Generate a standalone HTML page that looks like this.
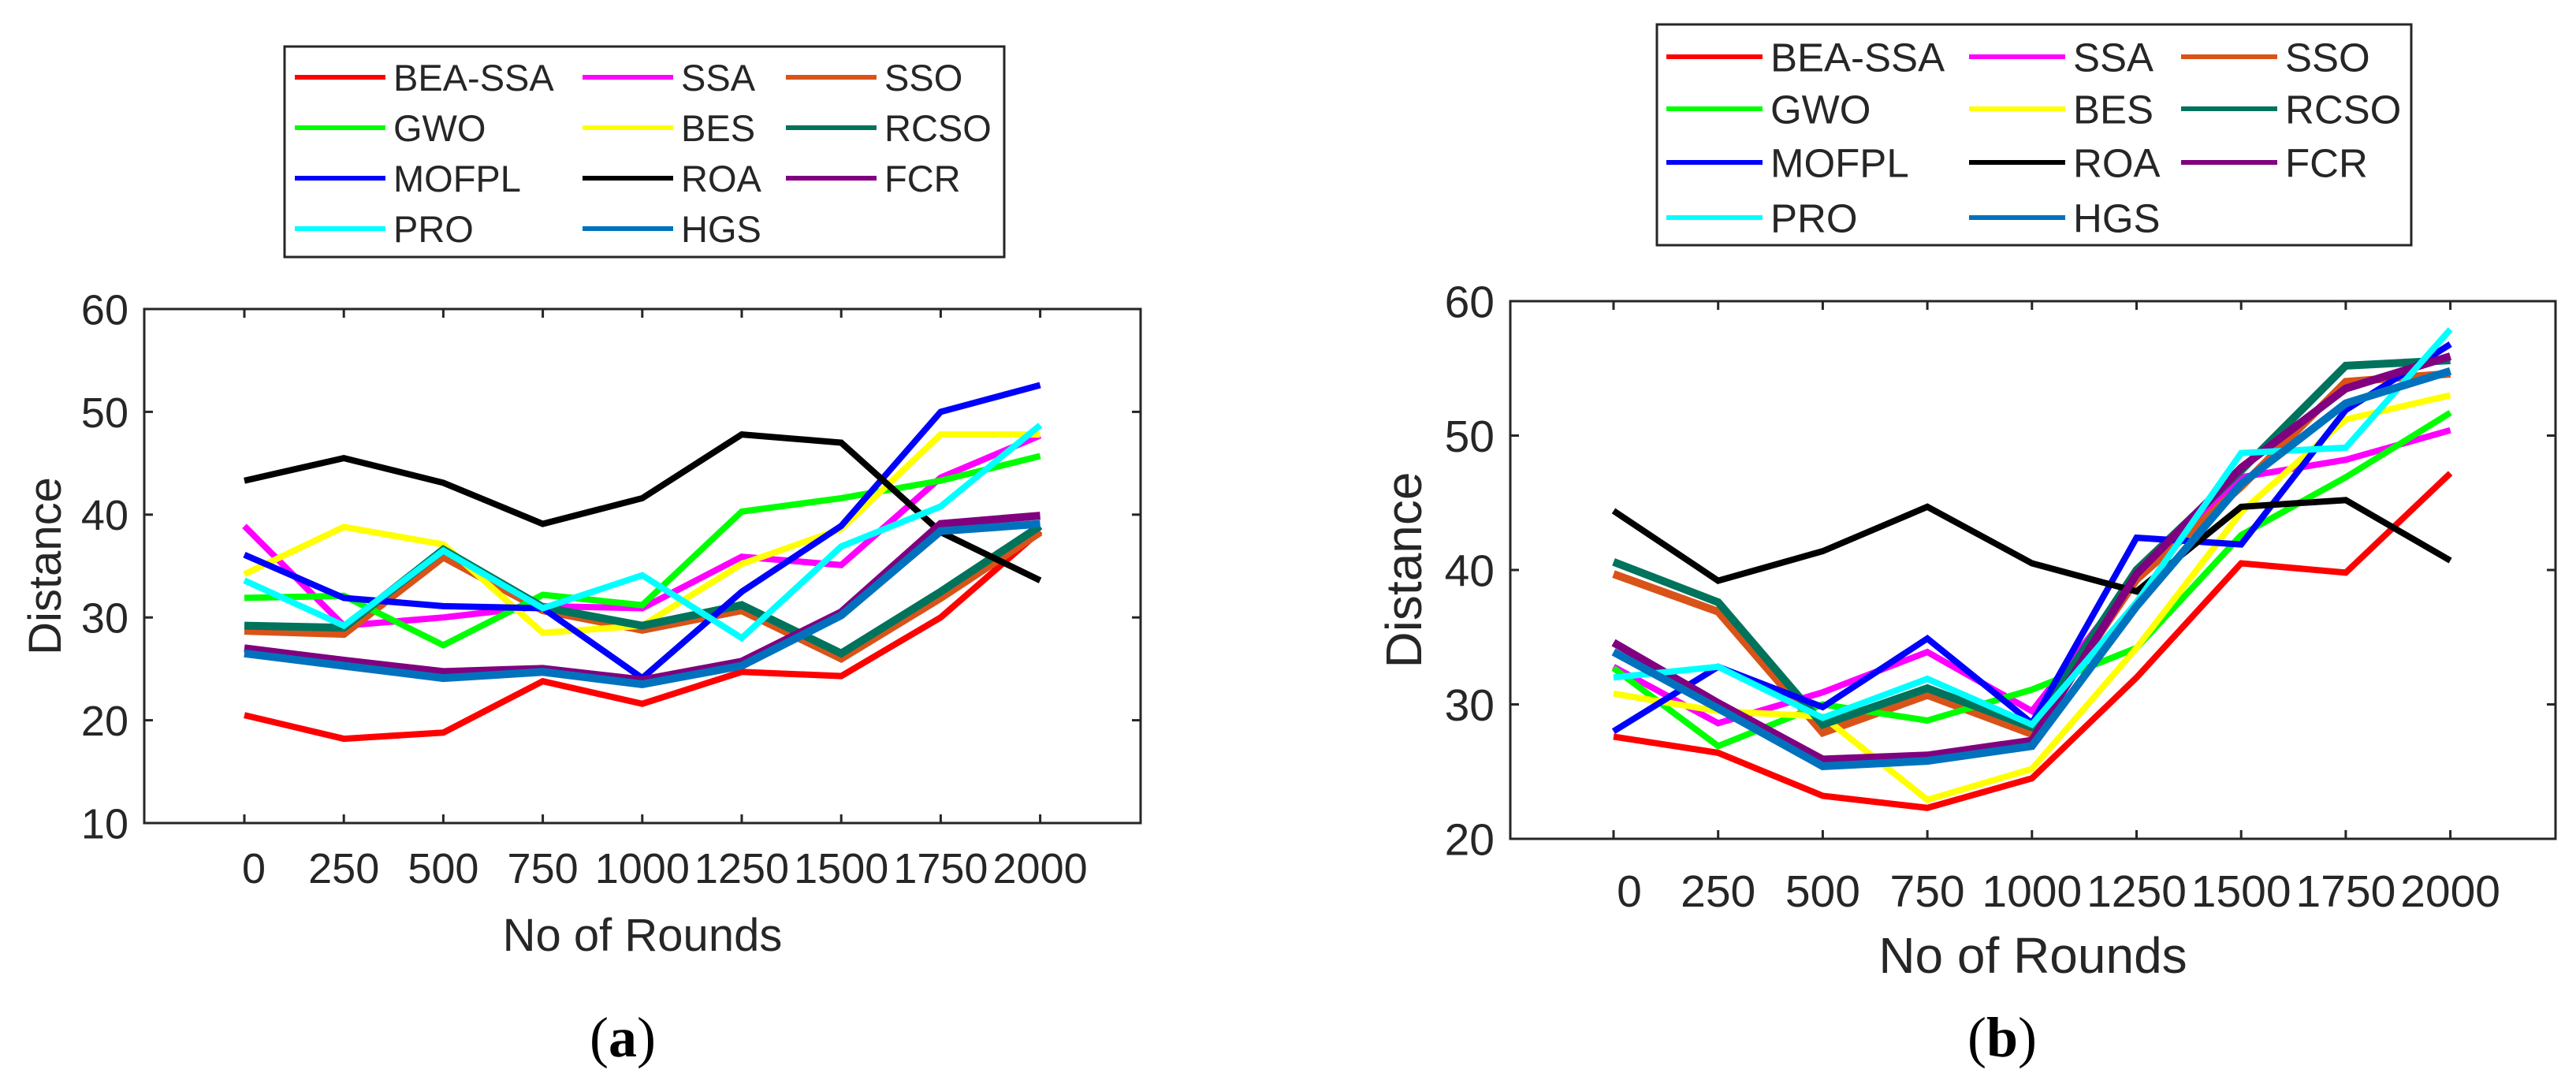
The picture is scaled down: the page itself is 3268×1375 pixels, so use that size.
<!DOCTYPE html>
<html><head><meta charset="utf-8"><style>
html,body{margin:0;padding:0;background:#fff}
svg{display:block}
text{font-family:"Liberation Sans",Arial,sans-serif;fill:#262626}
</style></head><body>
<svg id="fig" width="3268" height="1375" viewBox="0 0 3268 1375" xmlns="http://www.w3.org/2000/svg">
<g id="chartA"></g>
<g id="chartB"></g>
<text x="790" y="1340" text-anchor="middle" style="font-family:'Liberation Serif',serif;font-size:72px;fill:#000">(<tspan font-weight="bold">a</tspan>)</text>
<text x="2540" y="1340" text-anchor="middle" style="font-family:'Liberation Serif',serif;font-size:72px;fill:#000">(<tspan font-weight="bold">b</tspan>)</text>
</svg>
<script>
const categories = ["0","250","500","750","1000","1250","1500","1750","2000"];
const seriesNames = ["BEA-SSA","SSA","SSO","GWO","BES","RCSO","MOFPL","ROA","FCR","PRO","HGS"];
const yTicksA = [10,20,30,40,50,60];
const yTicksB = [20,30,40,50,60];
// Panel (a)
const a_BEASSA = [20.5,18.2,18.8,23.8,21.6,24.7,24.3,30.0,38.4];
const a_SSA    = [38.9,29.2,30.0,31.1,30.9,35.9,35.1,43.6,47.7];
const a_SSO    = [28.7,28.4,35.9,30.7,28.8,30.7,26.0,31.9,38.3];
const a_GWO    = [31.9,32.1,27.3,32.2,31.2,40.3,41.6,43.3,45.7];
const a_BES    = [34.2,38.8,37.1,28.5,29.2,35.2,38.6,47.8,47.8];
const a_RCSO   = [29.2,29.0,36.6,31.0,29.2,31.2,26.5,32.5,38.9];
const a_MOFPL  = [36.1,31.9,31.1,30.9,24.1,32.5,38.9,50.0,52.6];
const a_ROA    = [43.3,45.5,43.1,39.1,41.6,47.8,47.0,38.3,33.6];
const a_FCR    = [27.0,25.8,24.7,25.0,23.9,25.7,30.5,39.1,39.9];
const a_PRO    = [33.6,29.2,36.5,30.9,34.1,28.0,36.9,40.8,48.7];
const a_HGS    = [26.5,25.3,24.1,24.7,23.5,25.3,30.2,38.4,39.1];
// Panel (b)
const b_BEASSA = [27.6,26.4,23.2,22.3,24.5,32.0,40.5,39.8,47.2];
const b_SSA    = [32.8,28.6,30.9,33.9,29.5,39.5,46.9,48.2,50.4];
const b_SSO    = [39.7,36.9,27.9,30.7,27.8,39.3,46.2,54.0,54.6];
const b_GWO    = [32.7,26.9,30.0,28.8,31.1,34.2,42.6,46.9,51.7];
const b_BES    = [30.8,29.5,29.1,22.9,25.2,34.2,44.3,51.2,53.0];
const b_RCSO   = [40.6,37.6,28.5,31.2,28.3,40.0,47.4,55.2,55.6];
const b_MOFPL  = [28.0,32.8,29.8,34.9,28.6,42.4,41.9,51.9,56.8];
const b_ROA    = [44.4,39.2,41.4,44.7,40.5,38.4,44.7,45.2,40.7];
const b_FCR    = [34.6,30.1,25.9,26.2,27.3,39.7,47.6,53.5,55.9];
const b_PRO    = [32.0,32.8,29.0,31.9,28.5,37.6,48.7,49.1,57.9];
const b_HGS    = [33.9,29.7,25.4,25.8,26.9,37.3,46.4,52.4,54.8];

const colors = ["#ff0000","#ff00ff","#d95319","#00ff00","#ffff00","#00735c","#0000ff","#000000","#800080","#00ffff","#0072bd"];
const widths = [8,8,10,8,8,10,8,8,10,8,10];
const NS = "http://www.w3.org/2000/svg";
function mk(parent, tag, attrs, txt){
  const e = document.createElementNS(NS, tag);
  for (const k in attrs) e.setAttribute(k, attrs[k]);
  if (txt !== undefined) e.textContent = txt;
  parent.appendChild(e); return e;
}

function drawChart(g, cfg, data){
  const {L,R,T,B,x0,dx,ymin,ymax,yticks,tickFont,labFont,leg} = cfg;
  const X = i => x0 + i*dx;
  const Y = v => B - (v - ymin)/(ymax - ymin)*(B - T);
  const lg = mk(g,"g",{});
  
  
  const lb = mk(lg,"rect",{x:leg.x,y:leg.y,width:leg.w,height:leg.h,fill:"#fff",stroke:"#262626","stroke-width":3});
  
  
  seriesNames.forEach((n,i)=>{
    const col = i%3, row = Math.floor(i/3);
    const lx = leg.cols[col], ly = leg.rows[row];
    const eg = mk(lg,"g",{});
    
    
    mk(eg,"line",{x1:lx,x2:lx+leg.len,y1:ly,y2:ly,stroke:colors[i],"stroke-width":6});
    mk(eg,"text",{x:lx+leg.len+10,y:ly+leg.font*0.36,"font-size":leg.font,fill:"#000"},n);
  });
  data.forEach((arr,si)=>{
    const p = mk(g,"polyline",{points:arr.map((v,i)=>X(i)+","+Y(v)).join(" "),fill:"none",stroke:colors[si],"stroke-width":widths[si],"stroke-linejoin":"miter"});
    
    
  });
  const box = mk(g,"rect",{x:L,y:T,width:R-L,height:B-T,fill:"none",stroke:"#262626","stroke-width":3});
  
  
  categories.forEach((c,i)=>{
    mk(g,"line",{x1:X(i),x2:X(i),y1:B,y2:B-11,stroke:"#262626","stroke-width":3});
    mk(g,"line",{x1:X(i),x2:X(i),y1:T,y2:T+11,stroke:"#262626","stroke-width":3});
    const t = mk(g,"text",{x:X(i)+cfg.xoff(i),y:cfg.xlabY,"text-anchor":"middle","font-size":tickFont},c);
    
    
  });
  yticks.forEach(v=>{
    mk(g,"line",{x1:L,x2:L+11,y1:Y(v),y2:Y(v),stroke:"#262626","stroke-width":3});
    mk(g,"line",{x1:R,x2:R-11,y1:Y(v),y2:Y(v),stroke:"#262626","stroke-width":3});
    const t = mk(g,"text",{x:L-20,y:Y(v)+tickFont*0.36,"text-anchor":"end","font-size":tickFont},String(v));
    
    
  });
  const xt = mk(g,"text",{x:(L+R)/2,y:cfg.xTitleY,"text-anchor":"middle","font-size":labFont},"No of Rounds");
  
  
  const cy = (T+B)/2;
  const yt = mk(g,"text",{x:cfg.yTitleX,y:cy,"text-anchor":"middle","font-size":labFont,transform:"rotate(-90 "+cfg.yTitleX+" "+cy+")"},"Distance");
  
  
}

drawChart(document.getElementById("chartA"),{
  L:183,R:1447,T:392,B:1044,x0:310,dx:126.2,ymin:10,ymax:60,yticks:yTicksA,
  tickFont:54,labFont:58,xlabY:1120,xTitleY:1206,yTitleX:77,
  xoff:i=>(i===0?12:0),
  leg:{x:361,y:59,w:913,h:267,cols:[374,739,997],rows:[98,162,226,290],len:115,font:47}
},[a_BEASSA,a_SSA,a_SSO,a_GWO,a_BES,a_RCSO,a_MOFPL,a_ROA,a_FCR,a_PRO,a_HGS]);

drawChart(document.getElementById("chartB"),{
  L:1916,R:3242,T:382,B:1064,x0:2047,dx:132.7,ymin:20,ymax:60,yticks:yTicksB,
  tickFont:57,labFont:64,xlabY:1150,xTitleY:1234,yTitleX:1803,
  xoff:i=>(i===0?20:0),
  leg:{x:2102,y:31,w:957,h:280,cols:[2114,2498,2767],rows:[72,138,206,276],len:122,font:51}
},[b_BEASSA,b_SSA,b_SSO,b_GWO,b_BES,b_RCSO,b_MOFPL,b_ROA,b_FCR,b_PRO,b_HGS]);
</script>
</body></html>
